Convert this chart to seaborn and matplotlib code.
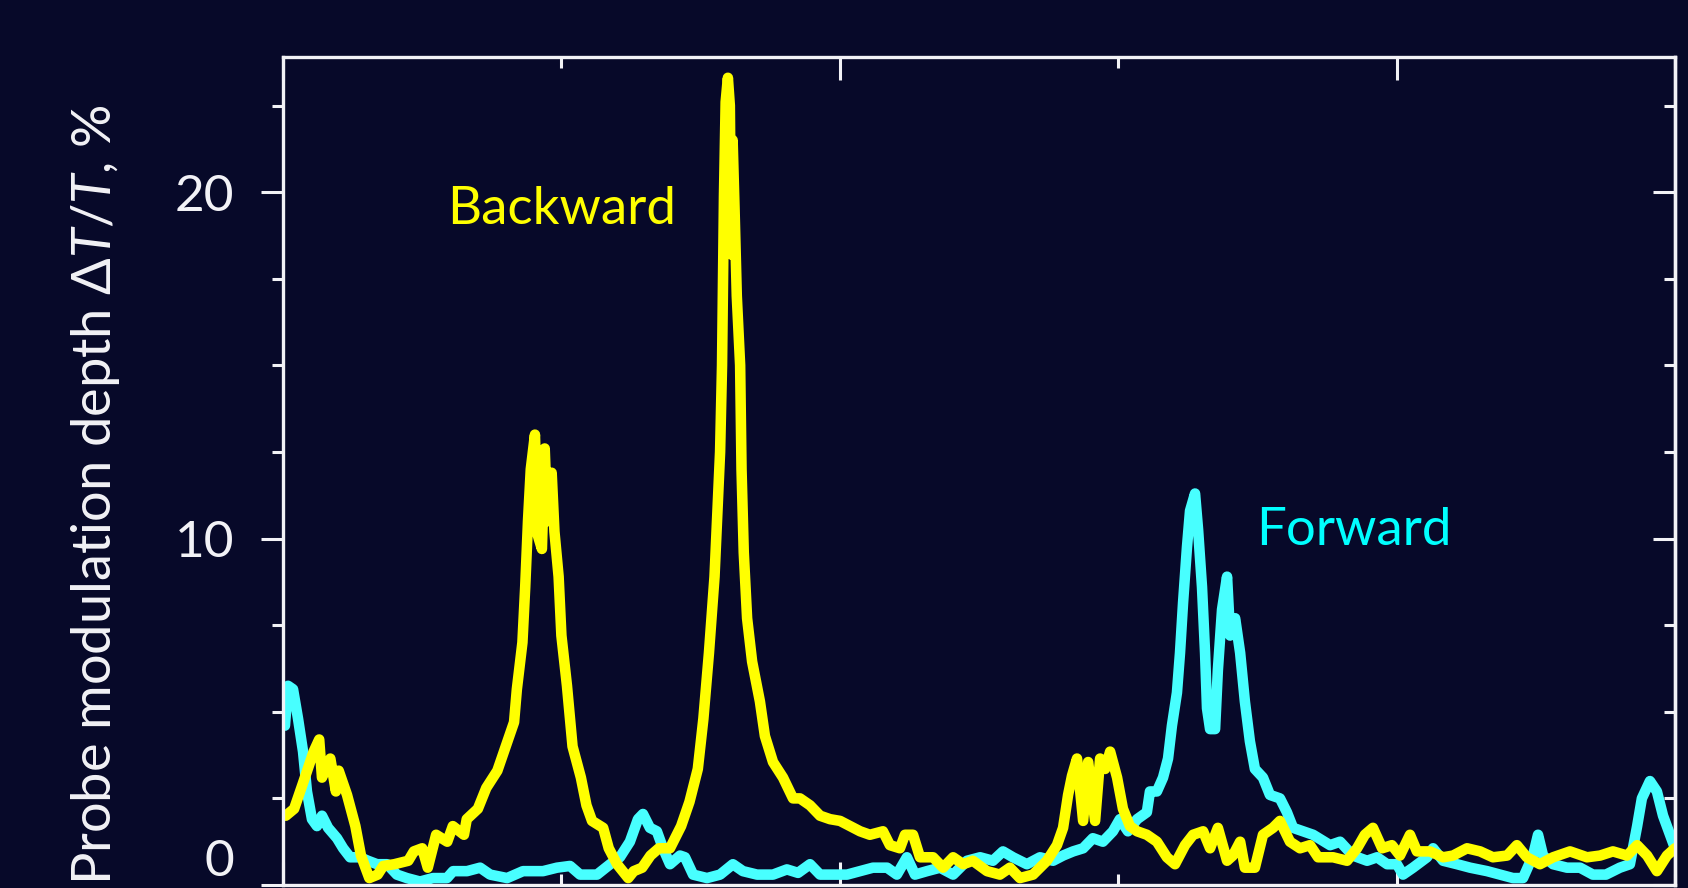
import matplotlib

matplotlib.use("Agg")
import matplotlib.pyplot as plt
import pandas as pd
import seaborn as sns
from matplotlib.ticker import MultipleLocator

# Probe modulation depth (%) vs. scan position (arbitrary units, 0..50)
back_x = [0.1, 0.4, 0.7, 1.1, 1.3, 1.4, 1.7, 1.9, 2.0, 2.3, 2.6, 2.8, 3.1, 3.4, 3.6,
          4.0, 4.5, 4.7, 5.0, 5.2, 5.5, 5.9, 6.1, 6.5, 6.6, 7.0, 7.3, 7.7, 8.0, 8.3,
          8.4, 8.6, 8.7, 8.8, 8.9, 9.05, 9.15, 9.3, 9.4, 9.5, 9.65, 9.75, 9.9, 10.0,
          10.2, 10.4, 10.7, 10.9, 11.1, 11.5, 11.7, 12.0, 12.4, 12.6, 12.9, 13.2,
          13.5, 13.9, 14.3, 14.6, 14.9, 15.1, 15.3, 15.5, 15.7, 15.77, 15.84, 15.9,
          15.98, 16.05, 16.1, 16.15, 16.22, 16.3, 16.42, 16.47, 16.55, 16.67, 16.85,
          17.13, 17.31, 17.6, 17.96, 18.32, 18.57, 18.93, 19.29, 19.65, 20.01, 20.37,
          20.73, 21.08, 21.55, 21.8, 22.16, 22.34, 22.63, 22.88, 23.35, 23.71, 24.07,
          24.43, 24.78, 25.29, 25.75, 26.11, 26.47, 26.94, 27.44, 27.8, 28.02, 28.2,
          28.34, 28.52, 28.74, 28.92, 29.17, 29.35, 29.53, 29.71, 29.96, 30.17, 30.42,
          30.68, 31.03, 31.39, 31.75, 32.04, 32.4, 32.69, 33.05, 33.3, 33.58, 33.91,
          34.12, 34.38, 34.55, 34.91, 35.2, 35.56, 35.81, 36.17, 36.53, 36.89, 37.18,
          37.72, 38.22, 38.58, 38.86, 39.15, 39.48, 39.83, 40.12, 40.48, 40.73, 41.2,
          41.67, 42.03, 42.53, 43.0, 43.46, 43.97, 44.32, 44.68, 45.15, 45.62, 46.23,
          46.84, 47.31, 47.77, 48.28, 48.64, 49.0, 49.35, 49.71, 50.0]
back_y = [2.0, 2.2, 2.9, 3.85, 4.2, 3.1, 3.65, 2.7, 3.3, 2.6, 1.7, 0.85, 0.2, 0.3, 0.55,
          0.6, 0.7, 0.97, 1.06, 0.5, 1.45, 1.25, 1.7, 1.45, 1.9, 2.2, 2.8, 3.3, 4.0, 4.7,
          5.65, 7.0, 8.6, 10.5, 12.0, 13.0, 10.1, 9.7, 12.6, 10.5, 11.9, 10.2, 8.9, 7.2,
          5.75, 4.0, 3.1, 2.3, 1.85, 1.65, 1.06, 0.6, 0.2, 0.4, 0.5, 0.85,
          1.06, 1.06, 1.7, 2.4, 3.35, 4.8, 6.7, 8.9, 12.5, 15.0, 19.9, 22.6,
          23.3, 22.5, 18.2, 21.5, 19.5, 17.0, 15.0, 12.0, 9.6, 7.7, 6.45,
          5.3, 4.3, 3.55, 3.1, 2.5, 2.5, 2.3, 2.0, 1.9, 1.85, 1.7,
          1.55, 1.45, 1.55, 1.15, 1.06, 1.45, 1.45, 0.8, 0.8, 0.5, 0.8,
          0.6, 0.7, 0.4, 0.3, 0.5, 0.2, 0.3, 0.7, 1.15, 1.65, 2.6,
          3.15, 3.65, 1.85, 3.55, 1.85, 3.65, 3.35, 3.85, 3.1, 2.2, 1.7,
          1.55, 1.45, 1.25, 0.8, 0.6, 1.15, 1.45, 1.55, 1.06, 1.65, 0.7,
          0.85, 1.25, 0.5, 0.5, 1.45, 1.65, 1.85, 1.25, 1.06, 1.15, 0.8,
          0.8, 0.7, 1.06, 1.45, 1.65, 1.06, 1.15, 0.85, 1.45, 0.97, 0.97,
          0.8, 0.85, 1.06, 0.97, 0.8, 0.85, 1.15, 0.8, 0.6, 0.8, 0.97,
          0.8, 0.85, 0.97, 0.85, 1.15, 0.85, 0.4, 0.85, 1.06]

fwd_x = [0.07, 0.18, 0.36, 0.54, 0.72, 0.86, 1.04, 1.22, 1.4, 1.62, 1.94, 2.16, 2.41,
         2.77, 3.05, 3.38, 3.74, 4.09, 4.45, 4.92, 5.39, 5.89, 6.11, 6.61, 7.08, 7.44,
         8.05, 8.62, 9.34, 9.84, 10.31, 10.67, 11.28, 11.75, 12.1, 12.46, 12.75, 12.93,
         13.18, 13.43, 13.65, 13.9, 14.26, 14.44, 14.73, 15.23, 15.7, 16.16, 16.52,
         17.03, 17.6, 18.1, 18.5, 18.93, 19.29, 19.76, 20.26, 20.73, 21.19, 21.7, 22.05,
         22.41, 22.7, 23.13, 23.6, 24.07, 24.57, 25.04, 25.5, 25.86, 26.22, 26.72,
         27.19, 27.66, 28.02, 28.38, 28.74, 29.09, 29.45, 29.81, 30.06, 30.35, 30.68,
         31.03, 31.14, 31.39, 31.61, 31.79, 31.93, 32.11, 32.22, 32.33, 32.47, 32.58,
         32.76, 32.87, 33.01, 33.12, 33.19, 33.3, 33.48, 33.58, 33.73, 33.91, 34.02,
         34.2, 34.38, 34.55, 34.73, 34.91, 35.2, 35.45, 35.81, 36.06, 36.28, 36.64,
         37.0, 37.61, 37.97, 38.43, 38.94, 39.3, 39.66, 40.01, 40.23, 40.59, 41.09,
         41.31, 41.67, 42.17, 42.64, 43.25, 43.71, 44.18, 44.54, 44.9, 45.08, 45.26,
         45.62, 46.12, 46.59, 47.05, 47.52, 48.02, 48.38, 48.64, 48.81, 49.1, 49.35,
         49.57, 49.82, 50.0]
fwd_y = [4.6, 5.75, 5.65, 4.8, 3.85, 2.7, 1.9, 1.7, 2.0, 1.65, 1.35, 1.06, 0.8,
         0.8, 0.7, 0.6, 0.6, 0.3, 0.2, 0.1, 0.2, 0.2, 0.4, 0.4, 0.5, 0.3,
         0.2, 0.4, 0.4, 0.5, 0.55, 0.3, 0.3, 0.6, 0.8, 1.25, 1.9, 2.05,
         1.65, 1.55, 1.06, 0.6, 0.85, 0.8, 0.3, 0.2, 0.3, 0.6, 0.4,
         0.3, 0.3, 0.45, 0.35, 0.6, 0.3, 0.3, 0.3, 0.4, 0.5, 0.5, 0.3,
         0.8, 0.3, 0.4, 0.5, 0.3, 0.7, 0.8, 0.7, 0.97, 0.8, 0.6,
         0.8, 0.7, 0.85, 0.97, 1.06, 1.35, 1.25, 1.55, 1.9, 1.55, 1.9,
         2.1, 2.7, 2.7, 3.1, 3.65, 4.6, 5.55, 6.7, 8.15, 9.75, 10.8,
         11.3, 10.25, 8.6, 6.7, 5.1, 4.5, 4.5, 6.2, 7.95, 8.9, 7.2,
         7.7, 6.7, 5.3, 4.15, 3.35, 3.1, 2.6, 2.5, 2.1, 1.65, 1.55,
         1.45, 1.15, 1.25, 0.85, 0.7, 0.8, 0.6, 0.6, 0.3, 0.5, 0.8,
         1.06, 0.7, 0.6, 0.5, 0.4, 0.3, 0.2, 0.2, 0.85, 1.45, 0.85,
         0.6, 0.5, 0.5, 0.3, 0.3, 0.5, 0.6, 1.7, 2.5, 3.0, 2.7,
         2.0, 1.45, 1.06]

y_ticks = [0, 10, 20]
y_label = r"Probe modulation depth $\mathit{\Delta T/T}$, %"

BG = "#070929"
YELLOW = "#FFFF00"
CYAN_LINE = "#48FFFF"
CYAN_TEXT = "#00FFFF"
WHITE = "#F2F2F6"


def style_axes(ax):
    ax.set_facecolor(BG)
    for spine in ax.spines.values():
        spine.set_visible(True)
        spine.set_color(WHITE)
        spine.set_linewidth(2.4)

    ax.set_xlim(0, 50)
    ax.set_ylim(0, 23.9)
    ax.xaxis.set_major_locator(MultipleLocator(20))
    ax.xaxis.set_minor_locator(MultipleLocator(10))
    ax.set_yticks(y_ticks)
    ax.yaxis.set_minor_locator(MultipleLocator(2.5))

    ax.tick_params(axis="x", which="both", direction="in", top=True, bottom=True,
                   labelbottom=False, color=WHITE, width=2.2)
    ax.tick_params(axis="x", which="major", length=16.5)
    ax.tick_params(axis="x", which="minor", length=8)
    ax.tick_params(axis="y", which="both", direction="out", left=True, right=False,
                   color=WHITE, labelcolor=WHITE, width=2.2, labelsize=37, pad=19)
    ax.tick_params(axis="y", which="major", length=16)
    ax.tick_params(axis="y", which="minor", length=8)
    ax.grid(False)

    # right-hand ticks point inwards, left-hand ones outwards
    sec = ax.secondary_yaxis("right")
    sec.set_yticks(y_ticks)
    sec.yaxis.set_minor_locator(MultipleLocator(2.5))
    sec.tick_params(which="both", direction="in", right=True, labelright=False,
                    color=WHITE, width=2.2)
    sec.tick_params(which="major", length=16)
    sec.tick_params(which="minor", length=8)
    sec.spines["right"].set_color(WHITE)
    sec.spines["right"].set_linewidth(2.4)

    # the bottom of the picture is cropped, so lift the "0" label
    ax.yaxis.get_major_ticks()[0].label1.set_verticalalignment("bottom")


def main():
    sns.set_theme(style="dark", rc={"figure.facecolor": BG, "axes.facecolor": BG})
    plt.rcParams["font.family"] = ["Lato", "DejaVu Sans"]
    plt.rcParams.update({
        "mathtext.fontset": "custom",
        "mathtext.rm": "Lato",
        "mathtext.it": "Lato:italic",
    })

    fig = plt.figure(figsize=(16.88, 8.88), dpi=100, facecolor=BG)
    ax = fig.add_axes([283 / 1688, 3 / 888, 1392 / 1688, 828 / 888])

    fwd = pd.DataFrame({"x": fwd_x, "y": fwd_y})
    back = pd.DataFrame({"x": back_x, "y": back_y})
    sns.lineplot(data=fwd, x="x", y="y", color=CYAN_LINE, linewidth=7.6,
                 sort=False, estimator=None, ax=ax)
    sns.lineplot(data=back, x="x", y="y", color=YELLOW, linewidth=7.6,
                 sort=False, estimator=None, ax=ax)

    style_axes(ax)
    ax.set_xlabel("")
    ax.set_ylabel(y_label, color=WHITE, fontsize=39)
    ax.yaxis.set_label_coords(-0.116, 0.471)

    ax.text(5.89, 19.08, "Backward", color=YELLOW, fontsize=38,
            ha="left", va="baseline")
    ax.text(34.95, 9.8, "Forward", color=CYAN_TEXT, fontsize=38,
            ha="left", va="baseline")

    fig.savefig("out.png", dpi=100, facecolor=BG)
    plt.close(fig)


if __name__ == "__main__":
    main()
